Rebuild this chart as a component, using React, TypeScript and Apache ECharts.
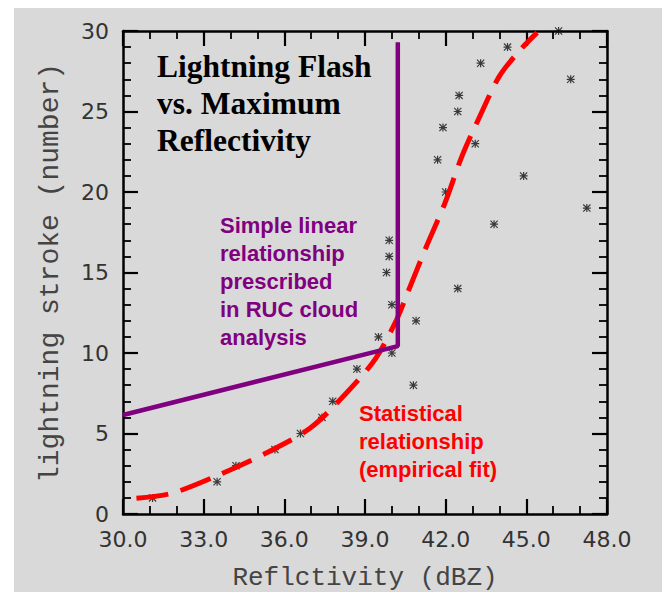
import React, { useEffect, useRef } from "react";
import * as echarts from "echarts";

// Observed data points (reflectivity dBZ, lightning strokes)
const reflectivity = [
  31.1, 33.5, 34.2, 35.65, 36.6, 37.4, 37.8, 40.8, 38.7, 40.0,
  39.5, 40.9, 40.0, 42.45, 39.8, 39.9, 39.9, 43.8, 47.25, 42.0,
  44.9, 41.7, 43.1, 41.9, 42.45, 42.5, 46.65, 43.3, 44.3, 46.2,
];
const strokes = [
  1, 2, 3, 4, 5, 6, 7, 8, 9, 10,
  11, 12, 13, 14, 15, 16, 17, 18, 19, 20,
  21, 22, 23, 24, 25, 26, 27, 28, 29, 30,
];

// Statistical relationship (empirical fit) curve
const fitX = [30.5, 31.8, 33.5, 35.3, 36.95, 38.3, 39.4, 40.17, 40.6, 41.23, 41.97, 42.6, 43.27, 44.0, 44.76, 45.4];
const fitY = [0.98, 1.28, 2.38, 3.77, 5.32, 7.5, 9.67, 12.05, 13.8, 16.4, 19.3, 22.2, 24.7, 27.2, 28.8, 29.9];

// Simple linear relationship (RUC cloud analysis)
const rucX = [30, 40.22, 40.22];
const rucY = [6.15, 10.43, 29.3];

const xMin = 30, xMax = 48, xStep = 3;
const yMin = 0, yMax = 30, yStep = 5;

const ASTERISK =
  "path://M3.4,0 L4.6,0 L4.6,8 L3.4,8 Z M0,3.4 L8,3.4 L8,4.6 L0,4.6 Z M0.8,0 L8,7.2 L7.2,8 L0,0.8 Z M7.2,0 L8,0.8 L0.8,8 L0,7.2 Z";

const labelStyle = { margin: 14, fontFamily: "DejaVu Sans", fontSize: 22, color: "#333333", showMinLabel: true, showMaxLabel: true };

function makeAxis(position: string, min: number, max: number, step: number, minorSplit: number, label: any) {
  return {
    type: "value", position, min, max, interval: step,
    axisLine: { show: true, onZero: false, lineStyle: { color: "#000000", width: 2.5, opacity: 1 } },
    axisTick: { show: true, inside: true, length: 15, lineStyle: { color: "#000000", width: 2.2, opacity: 1 } },
    minorTick: { show: true, splitNumber: minorSplit, length: 8, lineStyle: { color: "#000000", width: 1.8, opacity: 1 } },
    splitLine: { show: false },
    axisLabel: label,
  };
}

export default function App() {
  const ref = useRef<HTMLDivElement>(null);
  const textRef = useRef<HTMLDivElement>(null);
  useEffect(() => {
    if (!ref.current || !textRef.current) return;
    const chart = echarts.init(ref.current, undefined, { renderer: "svg" });
    const points = reflectivity.map((x, i) => [x, strokes[i]]);
    const fit = fitX.map((x, i) => [x, fitY[i]]);
    const ruc = rucX.map((x, i) => [x, rucY[i]]);
    chart.setOption({
      animation: false,
      grid: { left: 123, top: 31, width: 484, height: 483 },
      xAxis: [
        makeAxis("bottom", xMin, xMax, xStep, 3, { ...labelStyle, formatter: (v: number) => v.toFixed(1) }),
        makeAxis("top", xMin, xMax, xStep, 3, { show: false }),
      ],
      yAxis: [
        makeAxis("left", yMin, yMax, yStep, 5, { ...labelStyle }),
        makeAxis("right", yMin, yMax, yStep, 5, { show: false }),
      ],
      series: [
        { type: "scatter", data: points, symbol: ASTERISK, symbolSize: 8, itemStyle: { color: "#111111" }, z: 3 },
        { type: "line", data: fit, showSymbol: false, smooth: 0.3, lineStyle: { color: "#ff0000", width: 5, type: [32, 13], cap: "butt" }, z: 4 },
        { type: "line", data: ruc, showSymbol: false, lineStyle: { color: "#800080", width: 4.5 }, z: 5 },
      ],
    });

    // Text layer (annotations and axis titles)
    const textChart = echarts.init(textRef.current, undefined, { renderer: "svg" });
    textChart.setOption({
      animation: false,
      graphic: [
        {
          type: "text", x: 157, y: 48,
          style: { text: "Lightning Flash\nvs. Maximum\nReflectivity", fontFamily: "Liberation Serif", fontWeight: "bold", fontSize: 31.5, lineHeight: 37, fill: "#000000", align: "left", verticalAlign: "top" },
        },
        {
          type: "text", x: 220, y: 211,
          style: { text: "Simple linear\nrelationship\nprescribed\nin RUC cloud\nanalysis", fontFamily: "Liberation Sans", fontWeight: "bold", fontSize: 22, lineHeight: 28, fill: "#800080", align: "left", verticalAlign: "top" },
        },
        {
          type: "text", x: 359, y: 399,
          style: { text: "Statistical\nrelationship\n(empirical fit)", fontFamily: "Liberation Sans", fontWeight: "bold", fontSize: 22, lineHeight: 28, fill: "#ff0000", align: "left", verticalAlign: "top" },
        },
        {
          type: "text", x: 365, y: 578,
          style: { text: "Reflctivity (dBZ)", fontFamily: "Liberation Mono", fontSize: 26, fill: "#444444", align: "center", verticalAlign: "middle" },
        },
        {
          type: "text", x: 50, y: 273, rotation: Math.PI / 2,
          style: { text: "lightning stroke (number)", fontFamily: "Liberation Mono", fontSize: 28, fill: "#444444", align: "center", verticalAlign: "middle" },
        },
      ],
    });
    return () => {
      chart.dispose();
      textChart.dispose();
    };
  }, []);

  return (
    <div style={{ position: "absolute", left: 0, top: 0, width: 662, height: 592, background: "#fff", overflow: "hidden" }}>
      <div style={{ position: "absolute", left: 14, top: 8, right: 0, bottom: 0, background: "#d9d9d9" }} />
      <div ref={ref} style={{ position: "absolute", left: 0, top: 0, width: 662, height: 592 }} />
      <div ref={textRef} style={{ position: "absolute", left: 0, top: 0, width: 662, height: 592, pointerEvents: "none" }} />
    </div>
  );
}
